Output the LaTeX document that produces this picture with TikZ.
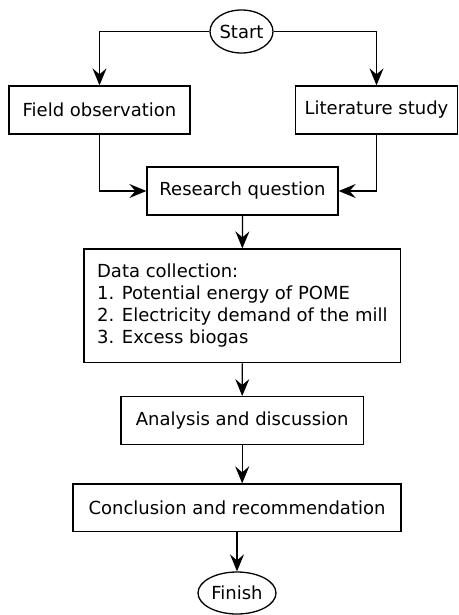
\documentclass[tikz,border=0pt]{standalone}
\usepackage{fontspec}
\setmainfont{DejaVu Sans}
\usetikzlibrary{shapes.geometric,arrows.meta}
\begin{document}
\begin{tikzpicture}[x=1pt,y=-1pt,
  every node/.style={font=\fontsize{18}{22}\selectfont, inner sep=0pt, line width=1.3pt},
  box/.style={draw, rectangle, align=left},
  oval/.style={draw, ellipse},
  conn/.style={draw, line width=1.3pt, -{Stealth[length=17pt,width=14pt,inset=6pt]}}]
\useasboundingbox (0,0) rectangle (458,615);
\node[oval, minimum width=63pt, minimum height=43pt] (start) at (241.5,31.5) {Start};
\node[box, minimum width=181pt, minimum height=48pt] (field) at (99.5,110) {Field observation};
\node[box, minimum width=162pt, minimum height=48pt] (lit) at (376.5,110) {Literature study};
\node[box, minimum width=191pt, minimum height=48pt] (rq) at (242.5,191) {Research question};
\node[box, minimum width=316.7pt, minimum height=113.7pt] (data) at (242.35,305.85) {Data collection:\\1. Potential energy of POME\\2. Electricity demand of the mill\\3. Excess biogas};
\node[box, minimum width=242.3pt, minimum height=47.6pt] (ana) at (242.2,420.5) {Analysis and discussion};
\node[box, minimum width=328pt, minimum height=47.7pt] (conc) at (237,507.85) {Conclusion and recommendation};
\node[oval, minimum width=78pt, minimum height=42pt] (finish) at (237,593) {Finish};
\draw[conn] (start.west) -| (field.north);
\draw[conn] (start.east) -| (lit.north);
\draw[conn] (field.south) |- (rq.west);
\draw[conn] (lit.south) |- (rq.east);
\draw[conn] (rq.south) -- (data.north);
\draw[conn] (data.south) -- (ana.north);
\draw[conn] (ana.south) -- (ana.south |- conc.north);
\draw[conn] (conc.south) -- (finish.north);
\end{tikzpicture}
\end{document}
